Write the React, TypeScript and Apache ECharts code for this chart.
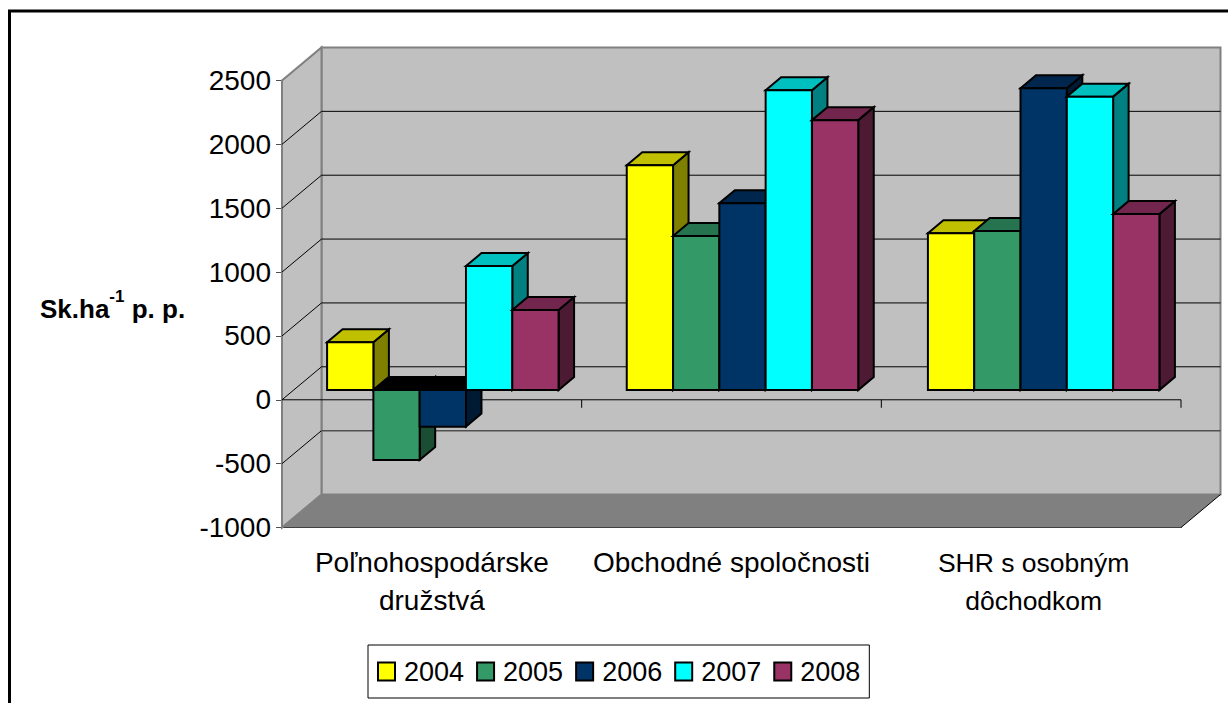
import React, { useEffect, useRef } from "react";
import * as echarts from "echarts";

const categories = ["Poľnohospodárske\ndružstvá", "Obchodné spoločnosti", "SHR s osobným\ndôchodkom"];
const years = ["2004", "2005", "2006", "2007", "2008"];
const v2004 = [373, 1760, 1228];
const v2005 = [-548, 1205, 1245];
const v2006 = [-287, 1463, 2363];
const v2007 = [970, 2347, 2297];
const v2008 = [626, 2113, 1377];
const seriesValues = [v2004, v2005, v2006, v2007, v2008];
const yTicks = [2500, 2000, 1500, 1000, 500, 0, -500, -1000];

const faces = [
  ["#FFFF00", "#C0C000", "#808000"],
  ["#339966", "#267350", "#1A4D33"],
  ["#003366", "#00264D", "#001A33"],
  ["#00FFFF", "#00BFBF", "#008080"],
  ["#993366", "#73264D", "#4D1A33"],
];

const WALL_DX = 39.5;
const WALL_DY = -33;
const BAR_SHIFT_X = 11;
const BAR_SHIFT_Y = -9.8;
const DEPTH_X = 15.5;
const DEPTH_Y = -13;
const CATEGORY_NUDGE = [0, 0, 1.5];

const line = (x1: number, y1: number, x2: number, y2: number, stroke: string, lineWidth: number) => ({
  type: "line",
  shape: { x1, y1, x2, y2 },
  style: { stroke, lineWidth, fill: "none" },
  silent: true,
});
const poly = (points: number[][], fill: string, lineWidth = 0, stroke = "#000") => ({
  type: "polygon",
  shape: { points },
  style: { fill, stroke: lineWidth ? stroke : "none", lineWidth },
  silent: true,
});

function renderWalls(params: any, api: any) {
  const band = api.size([1, 0])[0];
  const x0 = api.coord([0, 0])[0] - band / 2;
  const x1 = api.coord([2, 0])[0] + band / 2;
  const yTop = api.coord([0, 2500])[1];
  const yBottom = api.coord([0, -1000])[1];
  const children: any[] = [
    poly(
      [[x0 + WALL_DX, yTop + WALL_DY], [x1 + WALL_DX, yTop + WALL_DY], [x1 + WALL_DX, yBottom + WALL_DY], [x0 + WALL_DX, yBottom + WALL_DY]],
      "#C0C0C0", 2, "#808080"
    ),
    poly([[x0, yTop], [x0 + WALL_DX, yTop + WALL_DY], [x0 + WALL_DX, yBottom + WALL_DY], [x0, yBottom]], "#C0C0C0", 2, "#808080"),
    poly([[x0, yBottom], [x0 + WALL_DX, yBottom + WALL_DY], [x1 + WALL_DX, yBottom + WALL_DY], [x1, yBottom]], "#808080"),
    line(x1, yBottom, x1 + WALL_DX, yBottom + WALL_DY, "#000", 1),
  ];
  yTicks.forEach((t) => {
    if (t === 2500 || t === -1000) return;
    const y = api.coord([0, t])[1];
    const dark = t === -500;
    children.push(line(x0, y, x0 + WALL_DX, y + WALL_DY, "#000", 1));
    children.push(line(x0 + WALL_DX, y + WALL_DY, x1 + WALL_DX, y + WALL_DY, dark ? "#505050" : "#000", dark ? 1.5 : 1));
  });
  const yZero = api.coord([0, 0])[1];
  children.push(line(x0, yZero, x1, yZero, "#000", 1));
  for (let i = 1; i <= 3; i++) {
    const x = x0 + band * i;
    children.push(line(x, yZero, x, yZero + 8, "#000", 1));
  }
  return { type: "group", children };
}

function makeBarRenderer(seriesPos: number) {
  return (params: any, api: any) => {
    const cat = api.value(0);
    const val = api.value(1);
    const band = api.size([1, 0])[0];
    const bw = band * 0.1545;
    const center = api.coord([cat, 0])[0] + BAR_SHIFT_X + CATEGORY_NUDGE[cat];
    const xl = center - 2.5 * bw + seriesPos * bw;
    const xr = xl + bw;
    const y0 = api.coord([cat, 0])[1] + BAR_SHIFT_Y;
    const yv = api.coord([cat, val])[1] + BAR_SHIFT_Y;
    const [front, top, side] = faces[seriesPos];
    const yTopEdge = Math.min(y0, yv);
    const yBotEdge = Math.max(y0, yv);
    const topFill = val < 0 ? "#000" : top;
    const sw = 2;
    return {
      type: "group",
      children: [
        poly([[xr, yTopEdge], [xr + DEPTH_X, yTopEdge + DEPTH_Y], [xr + DEPTH_X, yBotEdge + DEPTH_Y], [xr, yBotEdge]], side, sw),
        poly([[xl, yTopEdge], [xl + DEPTH_X, yTopEdge + DEPTH_Y], [xr + DEPTH_X, yTopEdge + DEPTH_Y], [xr, yTopEdge]], topFill, sw),
        poly([[xl, yTopEdge], [xr, yTopEdge], [xr, yBotEdge], [xl, yBotEdge]], front, sw),
      ],
    };
  };
}

export default function App() {
  const ref = useRef<HTMLDivElement>(null);
  useEffect(() => {
    const chart = echarts.init(ref.current!, undefined, { renderer: "svg" });
    const font = "'Liberation Sans', Arial, sans-serif";
    chart.setOption({
      animation: false,
      backgroundColor: "#fff",
      textStyle: { fontFamily: font },
      grid: { left: 282, right: 47, top: 80.5, bottom: 175.5 },
      legend: {
        left: 368,
        top: 645,
        data: years,
        itemWidth: 17,
        itemHeight: 18,
        itemGap: 12,
        padding: [13, 9, 13, 9],
        borderColor: "#000",
        borderWidth: 1,
        backgroundColor: "#fff",
        selectedMode: false,
        icon: "rect",
        itemStyle: { borderColor: "#000", borderWidth: 2 },
        textStyle: { fontSize: 27, color: "#000", fontFamily: font, padding: [0, 0, 0, 4] },
      },
      xAxis: {
        type: "category",
        data: categories,
        position: "bottom",
        boundaryGap: true,
        axisLine: { onZero: false, lineStyle: { color: "#000", width: 1 } },
        axisTick: { alignWithLabel: false, length: 7, lineStyle: { color: "#000" } },
        splitLine: { show: false },
        axisLabel: {
          color: "#000",
          fontSize: 28,
          lineHeight: 38,
          margin: 16,
          interval: 0,
          fontFamily: font,
          formatter: (v: string, i: number) =>
            i === 2 ? v.split("\n").map((l) => `{c|${l}}`).join("\n") : v,
          rich: { c: { fontSize: 26.5, lineHeight: 38, color: "#000", fontFamily: font, padding: [0, 0, 0, 5] } },
        },
      },
      yAxis: {
        type: "value",
        min: -1000,
        max: 2500,
        interval: 500,
        axisLine: { show: true, lineStyle: { color: "#505050", width: 1.5 } },
        axisTick: { show: true, length: 6, lineStyle: { color: "#505050" } },
        splitLine: { show: false },
        axisLabel: { color: "#000", fontSize: 28, margin: 11, fontFamily: font, formatter: (v: number) => String(v) },
      },
      graphic: [
        { type: "line", z: -10, silent: true, shape: { x1: 8, y1: 11, x2: 1228, y2: 11 }, style: { stroke: "#000", lineWidth: 3 } },
        { type: "line", z: -10, silent: true, shape: { x1: 9.5, y1: 10, x2: 9.5, y2: 703 }, style: { stroke: "#000", lineWidth: 3 } },
        {
          type: "text",
          left: 40,
          top: 288,
          silent: true,
          style: {
            text: "{b|Sk.ha}{s|-1}{b| p. p.}",
            rich: {
              b: { fontSize: 26, fontWeight: "bold", fill: "#000", fontFamily: font, lineHeight: 34, verticalAlign: "bottom" },
              s: { fontSize: 17, fontWeight: "bold", fill: "#000", fontFamily: font, lineHeight: 34, verticalAlign: "top" },
            },
          },
        },
      ],
      series: [
        {
          type: "custom",
          name: "walls",
          data: [[0, 0]],
          silent: true,
          z: 1,
          renderItem: renderWalls,
          encode: { x: 0, y: 1 },
          clip: false,
        },
        ...years.map((name, s) => ({
          type: "custom",
          name,
          z: 2,
          silent: true,
          clip: false,
          itemStyle: { color: faces[s][0] },
          data: seriesValues[s].map((v, i) => [i, v]),
          encode: { x: 0, y: 1 },
          renderItem: makeBarRenderer(s),
        })),
      ],
    });
    return () => chart.dispose();
  }, []);
  return <div ref={ref} style={{ position: "fixed", left: 0, top: 0, width: 1228, height: 703 }} />;
}
